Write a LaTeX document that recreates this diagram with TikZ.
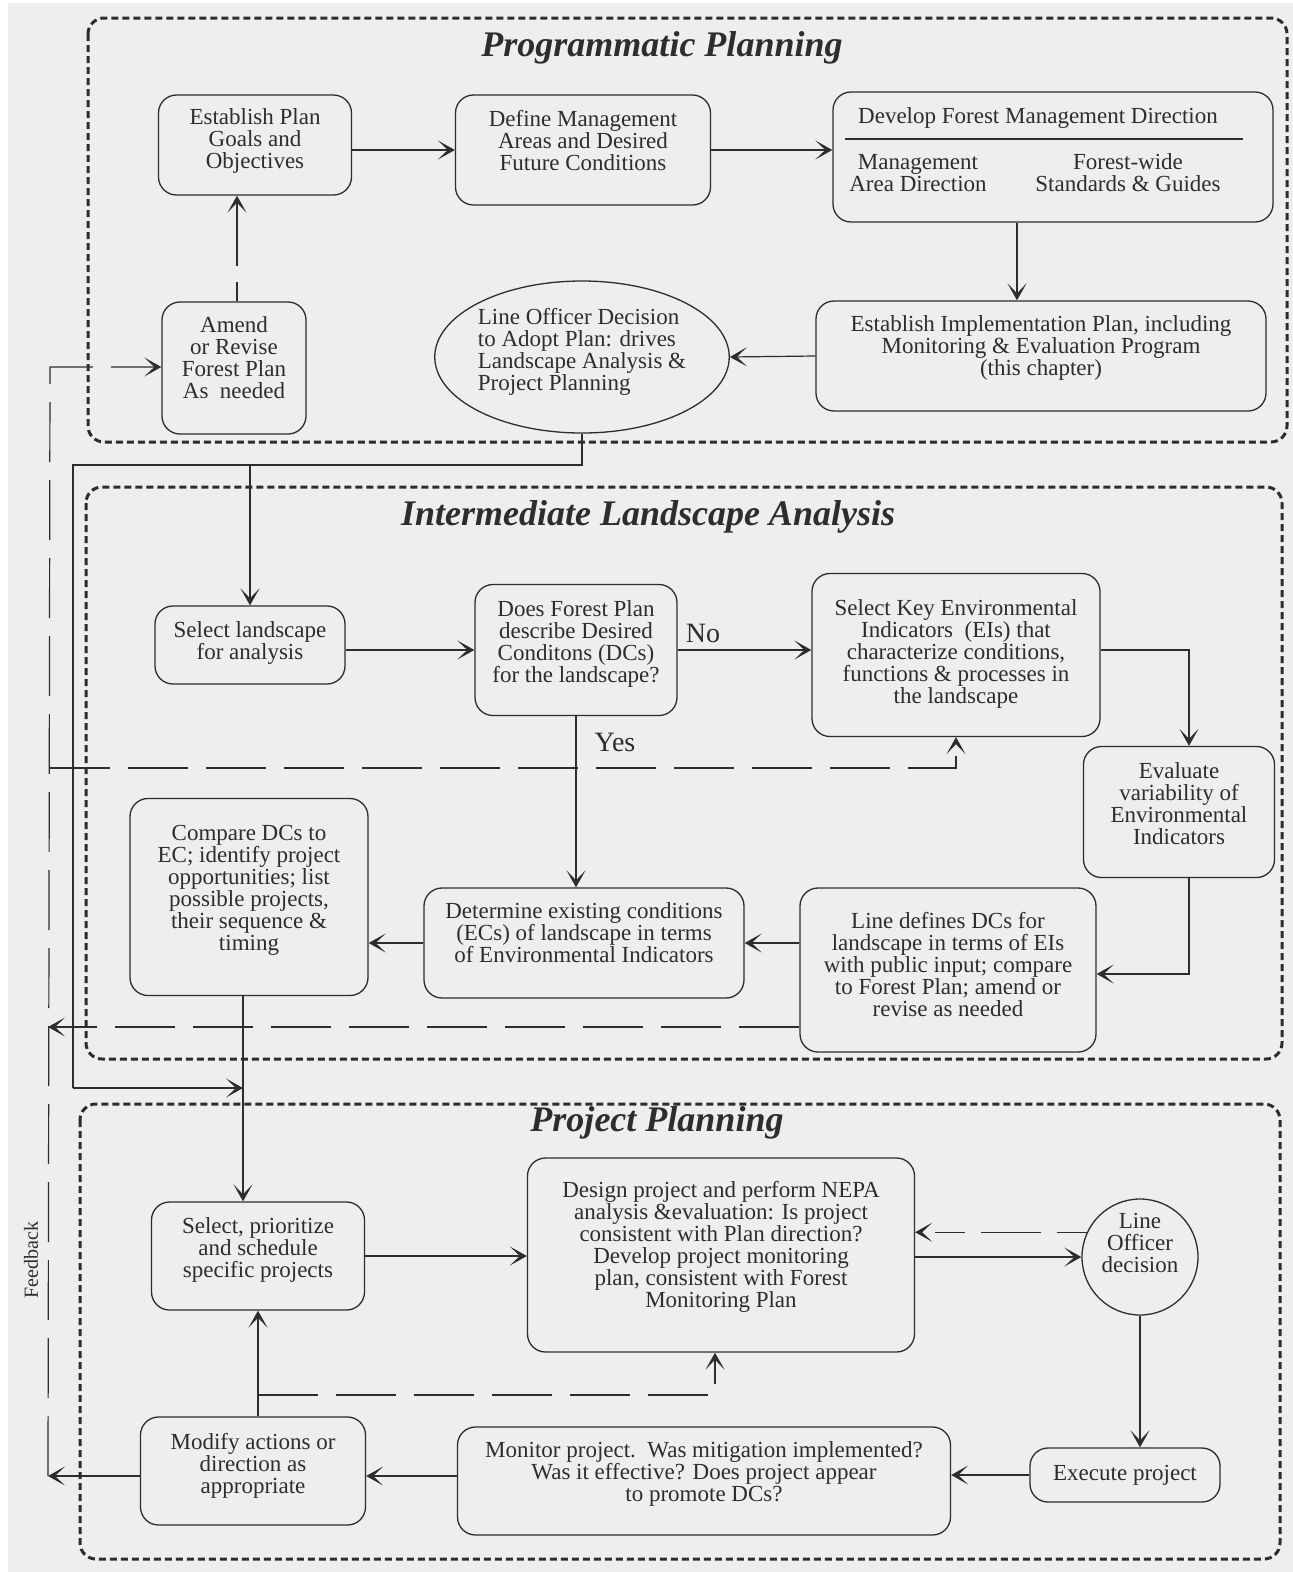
\documentclass[tikz,border=0pt]{standalone}
\usepackage{fontspec}
\setmainfont{Liberation Serif}
\usetikzlibrary{arrows.meta,shapes.geometric}
\definecolor{paper}{RGB}{238,238,238}
\definecolor{ink}{RGB}{45,45,45}
\begin{document}
\begin{tikzpicture}[x=1pt,y=-1pt,
  >={Stealth[length=17pt,width=19pt,inset=10pt]},
  txt/.style={font=\fontsize{23}{22}\selectfont, text=ink},
  box/.style={txt, draw=ink, line width=1.3pt, rounded corners=18pt, align=center, inner sep=2pt},
  conn/.style={draw=ink, line width=1.2pt},
  fb/.style={conn, dash pattern=on 60pt off 18pt},
  panel/.style={draw=ink, line width=3pt, dash pattern=on 7pt off 4pt, rounded corners=16pt},
  ptitle/.style={font=\fontsize{36}{40}\selectfont\bfseries\itshape, text=ink},
  lbl/.style={font=\fontsize{28}{30}\selectfont, text=ink}
]
\useasboundingbox (0,0) rectangle (1293,1572);
\fill[white] (0,0) rectangle (1293,1572);
\fill[paper] (8,3) rectangle (1293,1572);

% panels
\draw[panel] (88,18) rectangle (1287,442);
\draw[panel] (86,487) rectangle (1282,1059);
\draw[panel] (80,1104) rectangle (1280,1559);
\node[ptitle] (t1) at (662,48) {Programmatic Planning};
\node[ptitle] (t2) at (648,517) {Intermediate Landscape Analysis};
\node[ptitle] (t3) at (657,1123) {Project Planning};

% ---- Programmatic planning
\node[box, minimum width=193pt, minimum height=100pt] (goals) at (255,145)
  {Establish Plan\\Goals and\\Objectives\\[-10pt]\mbox{}};
\node[box, minimum width=255pt, minimum height=110pt] (define) at (583,150)
  {Define Management\\Areas and Desired\\Future Conditions\\[-2pt]\mbox{}};
\node[box, minimum width=440pt, minimum height=130pt] (develop) at (1053,157) {};
\node[txt] (devtitle) at (1038,118) {Develop Forest Management Direction};
\node[txt, align=center] (devma) at (918,173) {Management\\Area Direction};
\node[txt, align=center] (devfw) at (1128,173) {Forest-wide\\Standards \& Guides};
\coordinate (rulel) at (845,139);
\coordinate (ruler) at (1243,139);
\draw[conn] (rulel) -- (ruler);
\node[box, minimum width=450pt, minimum height=110pt] (impl) at (1041,356)
  {Establish Implementation Plan, including\\Monitoring \& Evaluation Program\\(this chapter)\\[-2pt]\mbox{}};
\node[txt, draw=ink, line width=1.3pt, ellipse, minimum width=284pt, minimum height=152pt, align=left, inner sep=0pt] (decision) at (582,357)
  {Line Officer Decision\\to Adopt Plan: drives\\Landscape Analysis \&\\Project Planning\\[-6pt]\mbox{}};
\node[box, minimum width=144pt, minimum height=132pt] (amend) at (234,368)
  {Amend\\or Revise\\Forest Plan\\As\ \ needed\\[-2pt]\mbox{}};

\draw[conn,->] (goals.east |- define.west) -- (define.west);
\draw[conn,->] (define.east) -- (define.east -| develop.west);
\draw[conn,->] ([xshift=-36pt]develop.south) -- ([xshift=-36pt]develop.south |- impl.north);
\draw[conn,->] (impl.west) -- (decision.east);
\draw[conn,->, dash pattern=on 19pt off 16pt on 200pt] ([xshift=3pt]amend.north) -- ([xshift=3pt]amend.north |- goals.south);

% ---- Intermediate landscape analysis
\node[box, minimum width=190pt, minimum height=78pt] (selland) at (250,645)
  {Select landscape\\for analysis\\[-14pt]\mbox{}};
\node[box, minimum width=202pt, minimum height=131pt] (does) at (576,650)
  {Does Forest Plan\\describe Desired\\Conditons (DCs)\\for the landscape?\\[-6pt]\mbox{}};
\node[box, minimum width=288pt, minimum height=163pt] (selkey) at (956,655)
  {Select Key Environmental\\Indicators\ \ (EIs) that\\characterize conditions,\\functions \& processes in\\the landscape\\[-16pt]\mbox{}};
\node[box, minimum width=191pt, minimum height=131pt] (evaluate) at (1179,812)
  {Evaluate\\variability of\\Environmental\\Indicators\\[-6pt]\mbox{}};
\node[box, minimum width=296pt, minimum height=164pt] (linedef) at (948,970)
  {Line defines DCs for\\landscape in terms of EIs\\with public input; compare\\to Forest Plan; amend or\\revise as needed\\[-10pt]\mbox{}};
\node[box, minimum width=320pt, minimum height=110pt] (determine) at (584,943)
  {Determine existing conditions\\(ECs) of landscape in terms\\of Environmental Indicators\\[-2pt]\mbox{}};
\node[box, minimum width=238pt, minimum height=197pt] (compare) at (249,897)
  {Compare DCs to\\EC; identify project\\opportunities; list\\possible projects,\\their sequence \&\\timing\\[-4pt]\mbox{}};

\draw[conn,->] (selland.east |- does.west) -- (does.west);
\draw[conn,->] (does.east) -- (does.east -| selkey.west);
\node[lbl] (no) at (703,633) {No};
\draw[conn,->] ([yshift=5pt]selkey.east) -| ([xshift=10pt]evaluate.north);
\draw[conn,->] ([xshift=10pt]evaluate.south) |- ([yshift=-4pt]linedef.east);
\draw[conn,->] (does.south) -- (does.south |- determine.north);
\node[lbl] (yes) at (615,742) {Yes};
\draw[conn,->] (linedef.west |- determine.east) -- (determine.east);
\draw[conn,->] (determine.west) -- (determine.west -| compare.east);

% ---- Project planning
\node[box, minimum width=213pt, minimum height=108pt] (selpri) at (258,1256)
  {Select, prioritize\\and schedule\\specific projects\\[-6pt]\mbox{}};
\node[box, minimum width=387pt, minimum height=194pt] (design) at (721,1255)
  {Design project and perform NEPA\\analysis \&evaluation: Is project\\consistent with Plan direction?\\Develop project monitoring\\plan, consistent with Forest\\Monitoring Plan\\[0pt]\mbox{}};
\node[txt, draw=ink, line width=1.3pt, circle, minimum size=116pt, align=center, inner sep=0pt] (lod) at (1140,1257)
  {Line\\Officer\\decision\\[6pt]\mbox{}};
\node[box, minimum width=190pt, minimum height=54pt] (execute) at (1125,1475) {Execute project};
\node[box, minimum width=493pt, minimum height=108pt] (monitor) at (704,1481)
  {Monitor project.\ \ Was mitigation implemented?\\Was it effective? Does project appear\\to promote DCs?\\[-4pt]\mbox{}};
\node[box, minimum width=225pt, minimum height=108pt] (modify) at (253,1471)
  {Modify actions or\\direction as\\appropriate\\[-6pt]\mbox{}};

\draw[conn,->] (selpri.east) -- (selpri.east -| design.west);
\draw[conn,->] (lod.west -| design.east) -- (lod.west);
\draw[conn,->, dash pattern=on 30pt off 16pt on 60pt off 16pt] (lod.155) -- (lod.155 -| design.east);
\draw[conn,->] (lod.south) -- (lod.south |- execute.north);
\draw[conn,->] (execute.west) -- (execute.west -| monitor.east);
\draw[conn,->] ([yshift=5pt]monitor.west) -- ([yshift=5pt]monitor.west -| modify.east);
\draw[conn,->] (selpri.south |- modify.north) -- (selpri.south);
\coordinate (modfb) at (258,1395);
\draw[fb,->] (modfb) -| ([xshift=-6pt]design.south);

% ---- cross-panel solid routing
\coordinate (bendL) at (73,465);
\coordinate (bendB) at (73,1088);
\coordinate (merge) at (243,1088);
\draw[conn] (decision.south) |- (bendL) -- (bendB);
\draw[conn,->] (bendB) -- (merge);
\draw[conn,->] (selland.north |- bendL) -- (selland.north);
\draw[conn,->] ([xshift=-6pt]compare.south) -- ([xshift=-6pt]compare.south |- selpri.north);

% ---- feedback
\coordinate (fbBot) at (48,1476);
\coordinate (fbTop) at (50,367);
\coordinate (fbMid) at (50,768);
\coordinate (fbLow) at (48,1027);
\draw[fb,->] (fbBot) -- (fbTop) -- (amend.west |- fbTop);
\draw[fb,->] (fbMid) -| (selkey.south);
\draw[fb,->] ([yshift=-57pt]linedef.west) -- (fbLow);
\draw[conn,->, dash pattern=on 100pt off 15pt] ([yshift=-5pt]modify.west) -- (fbBot);
\node[font=\fontsize{20}{22}\selectfont, text=ink, rotate=90] (fbl) at (31,1260) {Feedback};
\end{tikzpicture}
\end{document}
